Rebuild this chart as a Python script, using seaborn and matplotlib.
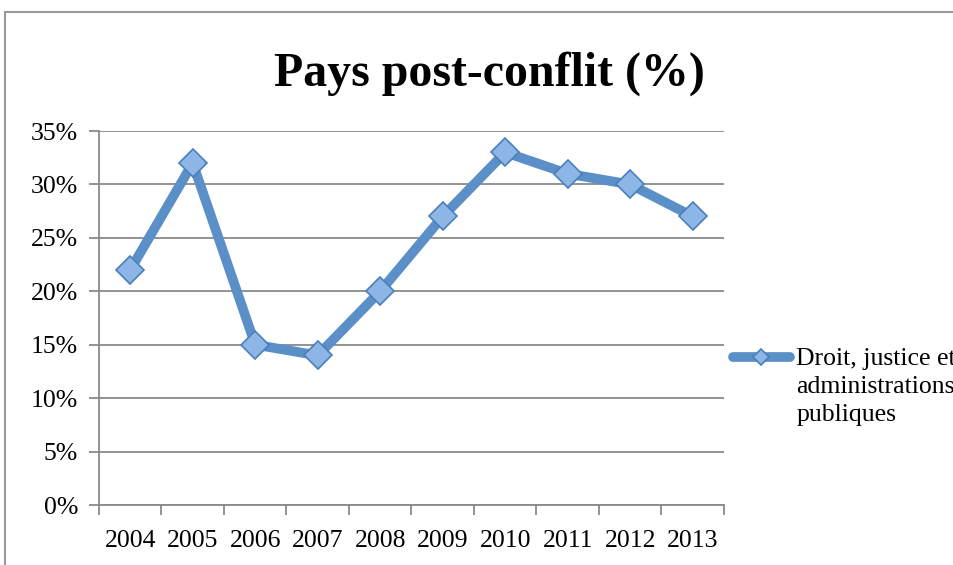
import matplotlib
matplotlib.use("Agg")
import matplotlib.pyplot as plt
import seaborn as sns
import pandas as pd
from matplotlib.patches import Rectangle
from matplotlib.ticker import FixedLocator, FuncFormatter

years = ["2004", "2005", "2006", "2007", "2008", "2009", "2010", "2011", "2012", "2013"]
values = [22, 32, 15, 14, 20, 27, 33, 31, 30, 27]
series_name = "Droit, justice et\nadministrations\npubliques"
title = "Pays post-conflit (%)"
yticks = [0, 5, 10, 15, 20, 25, 30, 35]

df = pd.DataFrame({"year": years, "value": values})

sns.set_style("white")
plt.rcParams["font.family"] = ["Liberation Serif", "DejaVu Serif"]
plt.rcParams["text.color"] = "black"
plt.rcParams["xtick.labelcolor"] = "black"
plt.rcParams["ytick.labelcolor"] = "black"

W, H = 954, 565
fig = plt.figure(figsize=(W / 100, H / 100), dpi=100)
ax = fig.add_axes([99 / W, 1 - 505 / H, (724 - 99) / W, (505 - 131) / H])

line_col = "#5b8fc7"
sns.lineplot(data=df, x="year", y="value", ax=ax, color=line_col, linewidth=7,
             marker="D", markersize=14, markerfacecolor="#8db6e6",
             markeredgecolor="#4a7fba", markeredgewidth=1.2, label=series_name,
             legend=False, solid_joinstyle="round", solid_capstyle="round")

ax.set_xlim(-0.5, len(years) - 0.5)
ax.set_ylim(0, 35)
ax.set_yticks(yticks)
ax.yaxis.set_major_formatter(FuncFormatter(lambda v, p: f"{int(v)}%"))
ax.xaxis.set_major_locator(FixedLocator([i - 0.5 for i in range(len(years) + 1)]))
ax.xaxis.set_major_formatter(FuncFormatter(lambda v, p: ""))
ax.xaxis.set_minor_locator(FixedLocator(list(range(len(years)))))
ax.set_xticklabels(years, minor=True)
ax.tick_params(axis="x", which="major", length=7, width=1.3, color="#8a8a8a", direction="out", bottom=True)
ax.tick_params(axis="x", which="minor", length=0, labelsize=18.5, pad=18, labelcolor="black")
ax.tick_params(axis="y", which="major", length=7, width=1.3, color="#8a8a8a", direction="out",
               left=True, labelsize=18.5, pad=8, labelcolor="black")
ax.set_xlabel("")
ax.set_ylabel("")
ax.grid(axis="y", color="#8a8a8a", linewidth=1.3)
ax.set_axisbelow(True)
for s in ["top", "right"]:
    ax.spines[s].set_visible(False)
for s in ["left", "bottom"]:
    ax.spines[s].set_color("#8a8a8a")
    ax.spines[s].set_linewidth(1.3)

fig.text(489 / W, 1 - 74 / H, title, ha="center", va="center", fontsize=34.5,
         fontweight="bold", color="black")

# chart area border (extends beyond the cropped picture)
fig.patches.append(Rectangle((5 / W, -0.1), 1.2, 1 - 12 / H + 0.1, transform=fig.transFigure,
                             fill=False, edgecolor="#9a9a9a", linewidth=1.5))

handles, labels = ax.get_legend_handles_labels()
leg = fig.legend(handles, labels, loc="upper left", bbox_to_anchor=(733 / W, 1 - 348 / H),
                 frameon=False, fontsize=18.5, handlelength=2.2, handletextpad=0.27,
                 borderaxespad=0, borderpad=0, markerscale=0.6)
for t in leg.get_texts():
    t.set_linespacing(1.35)
for col in leg._legend_handle_box.get_children():
    for item in col.get_children():
        item.align = "top"

fig.savefig("out.png", dpi=100)
